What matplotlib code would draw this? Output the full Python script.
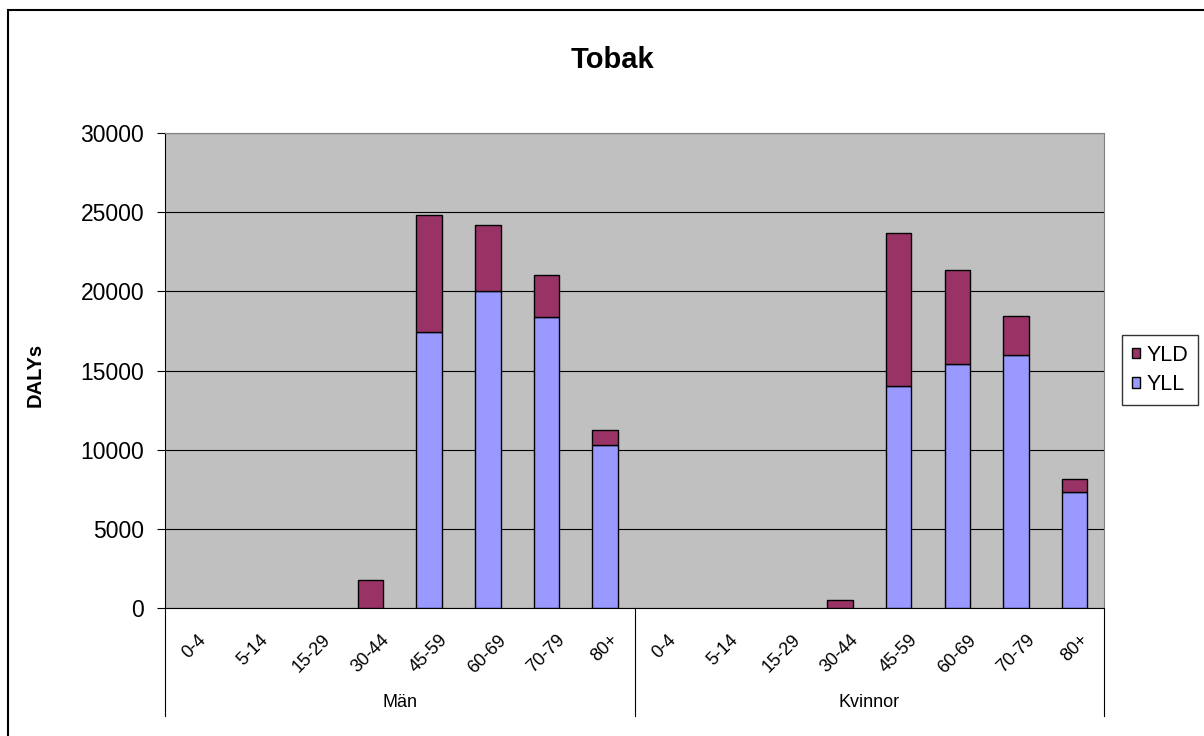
import numpy as np
import matplotlib.pyplot as plt
from matplotlib.patches import Rectangle

plt.rcParams['font.family'] = ['Liberation Sans', 'DejaVu Sans']

age_groups = ['0-4', '5-14', '15-29', '30-44', '45-59', '60-69', '70-79', '80+']
sexes = ['Män', 'Kvinnor']

man_yll = [0, 0, 0, 0, 17450, 20000, 18400, 10300]
man_yld = [0, 0, 0, 1750, 7350, 4170, 2600, 950]
kvinna_yll = [0, 0, 0, 0, 14000, 15400, 16000, 7300]
kvinna_yld = [0, 0, 0, 500, 9700, 5950, 2450, 850]

yll = np.array(man_yll + kvinna_yll)
yld = np.array(man_yld + kvinna_yld)
labels = age_groups + age_groups
x = np.arange(len(labels))

fig = plt.figure(figsize=(12.04, 7.36), dpi=100)
ax = fig.add_axes([165 / 1204, 1 - 608 / 736, 939 / 1204, 475 / 736])
ax.set_facecolor('#C0C0C0')

# outer chart frame
fig.add_artist(Rectangle((8 / 1204, -0.1), 1.2, 1 - 10 / 736 + 0.1,
                         transform=fig.transFigure, fill=False,
                         edgecolor='black', linewidth=1.5))

# skip empty segments so no flat edges sit on the axis
w = 0.435
m1 = yll > 0
m2 = yld > 0
ax.bar(x[m1], yll[m1], w, color='#9999FF', edgecolor='black', linewidth=1.0,
       label='YLL', zorder=3)
ax.bar(x[m2], yld[m2], w, bottom=yll[m2], color='#993366', edgecolor='black',
       linewidth=1.0, label='YLD', zorder=3)

ax.set_xlim(-0.5, len(labels) - 0.5)
ax.set_ylim(0, 30000)
ax.set_yticks(np.arange(0, 30001, 5000))
ax.yaxis.grid(True, color='black', linewidth=0.8, zorder=1)
ax.set_axisbelow(True)

ax.set_xticks(x)
ax.set_xticklabels(labels, rotation=45, ha='center', va='top', fontsize=13)
ax.tick_params(axis='x', length=0, pad=17)
ax.tick_params(axis='y', length=6, width=0.8, pad=9, labelsize=16.5,
               direction='out')

for side in ['top', 'right']:
    ax.spines[side].set_color('#808080')
for side in ['left', 'bottom']:
    ax.spines[side].set_color('black')
    ax.spines[side].set_linewidth(0.8)

# group separators and sex labels under the age labels
trans = ax.get_xaxis_transform()
for xs in [-0.5, 7.5, 15.5]:
    ax.plot([xs, xs], [0, -0.2274], color='black', linewidth=0.8,
            transform=trans, clip_on=False)
for i, name in enumerate(sexes):
    ax.text(3.5 + 8 * i, -0.198, name, transform=trans, ha='center',
            va='center', fontsize=13)

ax.set_ylabel('DALYs', fontsize=14.5, fontweight='bold')
ax.yaxis.set_label_coords(-0.1278, 0.49)

fig.text(612 / 1204, 1 - 60 / 736, 'Tobak', ha='center', va='center',
         fontsize=21, fontweight='bold')

handles, names = ax.get_legend_handles_labels()
leg = fig.legend(handles[::-1], names[::-1], loc='center',
                 bbox_to_anchor=(1160 / 1204, 1 - 370 / 736),
                 fontsize=15.5, frameon=True, fancybox=False,
                 handlelength=0.4, handleheight=0.4, handletextpad=0.3,
                 borderpad=0.45, labelspacing=0.4, borderaxespad=0)
leg.get_frame().set_edgecolor('black')
leg.get_frame().set_linewidth(1.0)

fig.savefig('out.png', dpi=100)
